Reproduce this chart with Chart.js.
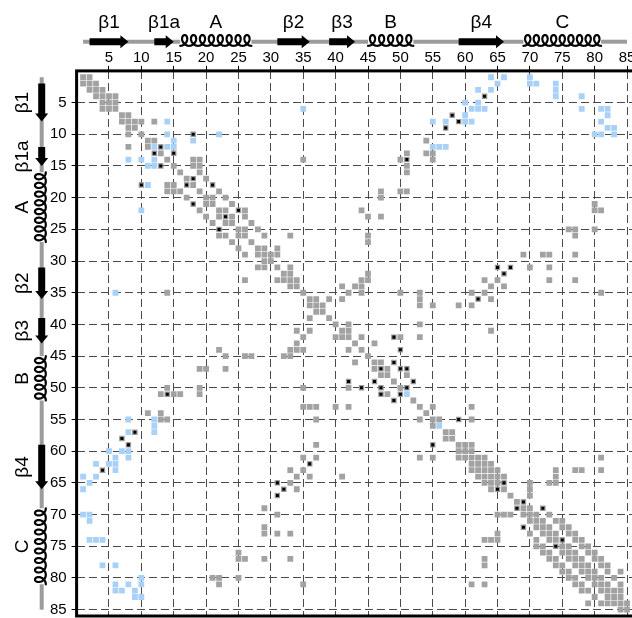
<!DOCTYPE html>
<html><head><meta charset="utf-8">
<script src="https://cdn.jsdelivr.net/npm/chart.js@4.4.0/dist/chart.umd.min.js"></script>
<style>html,body{margin:0;padding:0;background:#fff;overflow:hidden;width:632px;height:618px}canvas{display:block}</style>
</head><body>
<canvas id="c" width="640" height="630" style="width:640px;height:630px"></canvas>
<script>
// ---- data ----
const residueRange = [0, 86];
const xTickValues = [5,10,15,20,25,30,35,40,45,50,55,60,65,70,75,80,85];
const yTickValues = [5,10,15,20,25,30,35,40,45,50,55,60,65,70,75,80,85];
const backbone = [1, 85];
const ssLabels = ['β1','β1a','A','β2','β3','B','β4','C'];
const ssTypes  = ['E','E','H','E','E','H','E','H'];
const ssStart  = [2,12,16,31,39,45,59,69];
const ssEnd    = [8,15,27,36,43,52,66,81];

// contacts (i <= j); each is drawn at (i,j) and (j,i)
const grayContacts = [
[1,1],[1,2],[2,2],[2,3],[3,3],[3,4],[4,4],[4,5],[4,6],[5,5],[5,6],[6,6],[7,7],[7,8],[8,8],[8,9],[9,9],[8,10],[10,10],[8,12],[11,11],[11,12],[13,13],[14,14],[15,15],
[14,18],[14,19],[15,18],[15,19],[16,16],[16,19],[17,17],[17,20],[18,18],[19,19],[20,20],[20,21],[21,21],[19,22],[22,22],[22,23],[20,23],[21,24],[23,24],[24,24],[22,26],[23,26],[25,25],[25,26],[26,26],[24,27],[27,27],[25,28],[28,28],
[14,35],[22,44],[23,45],[23,47],[26,45],[27,45],[19,47],[20,47],[19,50],[19,51],[14,50],[13,51],[15,51],[16,51],[11,54],[13,54],[13,55],[14,55],[26,29],[26,33],[28,29],[28,31],
[21,80],[22,80],[22,81],[25,80],[25,76],[25,77],[26,77],
[29,29],[29,30],[29,31],[30,30],[31,31],[32,32],[32,33],[31,33],[33,33],[33,34],[34,34],[35,35],[36,36],[36,37],[37,37],[37,38],[38,38],[36,39],[39,39],[40,40],[40,42],[41,41],[41,42],[42,42],[43,43],[42,44],[44,44],[45,45],
[32,45],[33,45],[33,44],[34,41],[34,43],[34,44],[35,44],[35,42],[36,41],
[35,50],[35,53],[36,53],[37,53],[37,55],[40,53],[42,50],[42,53],[43,46],[46,46],[46,47],[47,48],[48,48],[48,51],[49,49],[50,50],[52,52],[53,53],[54,54],[53,55],[55,55],[55,56],[57,57],[57,58],[58,58],
[29,69],[29,72],[29,73],[29,77],[31,70],[31,73],[33,63],[33,65],[33,73],[33,77],[34,64],[34,66],[35,61],[35,63],[35,81],[36,64],[37,59],[37,61],[41,64],[53,61],[55,61],
[65,70],[66,70],[67,70],[63,74],[64,74],[65,73],[65,74],[63,77],[63,78],[61,81],[63,81],
[59,59],[59,60],[59,61],[60,60],[60,61],[61,61],[61,62],[61,63],[62,62],[62,63],[62,64],[63,63],[63,64],[63,65],[64,64],[64,65],[64,66],[65,65],[66,66],[67,67],[68,68],[69,69],
[70,70],[71,71],[72,72],[73,73],[74,74],[75,75],[76,76],[77,77],[78,78],[79,79],[80,80],[81,81],[82,82],[83,83],[84,84],[85,85],
[69,70],[70,71],[71,72],[72,73],[73,74],[75,76],[76,77],[77,78],[78,79],[79,80],[80,81],[81,82],[82,83],[83,84],[84,85],
[70,73],[71,74],[72,75],[73,76],[74,77],[75,78],[76,79],[77,80],[78,81],[79,82],[80,83],[81,84],
[71,75],[72,76],[73,77],[74,78],[75,79],[76,80],[77,81],[78,82],[79,84],[82,84]
];
const blueContacts = [
[1,64],[1,66],[2,65],[3,62],[3,64],[5,60],[5,62],[6,61],[6,62],[6,63],[7,60],[8,60],[8,61],[8,55],[8,57],[12,55],[12,56],[12,57],
[1,70],[2,70],[2,71],[2,74],[3,74],[4,74],[4,78],[6,78],[6,81],[6,82],[7,82],[8,81],[9,82],[9,83],[10,80],[10,81],[10,83],
[6,35],[8,14],[10,14],[10,22],[11,15],[11,18],[12,12],[12,14],[12,15],[51,51],[56,56]
];
const blackContacts = [
[4,63],[7,58],[8,59],[9,57],[10,18],[12,13],[13,15],[17,18],[18,21],[22,25],[23,23],[14,51],
[31,65],[31,67],[32,66],[36,62],[55,59],[42,49],[44,50],[46,49],[47,47],[47,50],[47,51],[49,52],[50,51],
[65,66],[68,69],[69,72],[74,75]
];

// ---- helpers ----
function expand(pairs){
  const pts=[];
  pairs.forEach(([a,b])=>{ pts.push({x:a,y:b}); if(a!==b) pts.push({x:b,y:a}); });
  return pts;
}
const FONT = '"Liberation Sans", Arial, Helvetica, sans-serif';

function drawTrack(ctx, pos, map){
  const base = 41.7;
  ctx.save();
  ctx.strokeStyle = '#9c9c9c'; ctx.lineWidth = 4; ctx.lineCap = 'butt';
  const cuts = [];
  ssTypes.forEach((t,i)=>{ if(t==='H') cuts.push([pos(ssStart[i]), pos(ssEnd[i])]); });
  cuts.sort((a,b)=>a[0]-b[0]);
  let cur = pos(backbone[0]); const endP = pos(backbone[1]);
  const segs = [];
  cuts.forEach(c=>{ segs.push([cur, c[0]]); cur = c[1]; });
  segs.push([cur, endP]);
  segs.forEach(s=>{
    ctx.beginPath();
    let p = map(s[0], base); ctx.moveTo(p[0], p[1]);
    p = map(s[1], base); ctx.lineTo(p[0], p[1]);
    ctx.stroke();
  });
  ssTypes.forEach((t,i)=>{
    const s0 = pos(ssStart[i]), s1 = pos(ssEnd[i]);
    if (t==='E'){
      const hl = 8, sh = 3.5, hh = 6.5;
      const pts = [[s0,base-sh],[s1-hl,base-sh],[s1-hl,base-hh],[s1,base],[s1-hl,base+hh],[s1-hl,base+sh],[s0,base+sh]];
      ctx.fillStyle = '#000';
      ctx.beginPath();
      pts.forEach((q,k)=>{ const p = map(q[0], q[1]); if(k===0) ctx.moveTo(p[0],p[1]); else ctx.lineTo(p[0],p[1]); });
      ctx.closePath(); ctx.fill();
    } else {
      const n = Math.max(1, Math.round((s1-s0)/9));
      const r = (s1-s0)/(2*Math.PI*n), dx = 4.6, dy = 5.4, cc = 40.4;
      ctx.strokeStyle = '#000'; ctx.lineWidth = 2.2; ctx.lineJoin='round'; ctx.lineCap='round';
      ctx.beginPath();
      const steps = n*48;
      for (let k=0;k<=steps;k++){
        const tt = 2*Math.PI*n*k/steps;
        const a = s0 + r*tt + dx*Math.sin(tt);
        const c = cc + dy*Math.cos(tt);
        const p = map(a, c);
        if(k===0) ctx.moveTo(p[0],p[1]); else ctx.lineTo(p[0],p[1]);
      }
      ctx.stroke();
    }
  });
  ctx.restore();
}

const ssPlugin = {
  id: 'ssTrack',
  afterDraw(chart){
    const ctx = chart.ctx, xs = chart.scales.x, ys = chart.scales.y, ca = chart.chartArea;
    ctx.save();
    ctx.strokeStyle = '#000'; ctx.lineWidth = 3;
    ctx.strokeRect(ca.left, ca.top, ca.right-ca.left, ca.bottom-ca.top);
    ctx.restore();
    drawTrack(ctx, v=>xs.getPixelForValue(v), (a,c)=>[a,c]);
    drawTrack(ctx, v=>ys.getPixelForValue(v), (a,c)=>[c,a]);
    ctx.save();
    ctx.fillStyle = '#000';
    ctx.font = '19px ' + FONT;
    ctx.textAlign = 'center'; ctx.textBaseline = 'alphabetic';
    ssLabels.forEach((lab,i)=>{
      const mid = (ssStart[i]+ssEnd[i])/2;
      ctx.fillText(lab, xs.getPixelForValue(mid), 28.3);
      ctx.save();
      ctx.translate(28.3, ys.getPixelForValue(mid));
      ctx.rotate(-Math.PI/2);
      ctx.fillText(lab, 0, 0);
      ctx.restore();
    });
    ctx.restore();
  }
};

const tickFont = {family: FONT, size: 15};
new Chart(document.getElementById('c'), {
  type: 'scatter',
  data: { datasets: [
    {data: expand(grayContacts), backgroundColor:'#a2a2a2', borderWidth:0, pointStyle:'rect', pointRadius:4.1, order:3},
    {data: expand(blueContacts), backgroundColor:'#a9d1f7', borderWidth:0, pointStyle:'rect', pointRadius:4.1, order:2},
    {data: expand(blackContacts), backgroundColor:'#000', borderColor:'#9a9a9a', borderWidth:1.2, pointStyle:'rect', pointRadius:3, order:1}
  ]},
  options: {
    responsive:false, animation:false, events:[], devicePixelRatio:1,
    layout:{padding:{left:0, top:0, right:6.5, bottom:12.5}},
    plugins:{legend:{display:false}, tooltip:{enabled:false}},
    scales:{
      x:{type:'linear', position:'top', min:residueRange[0], max:residueRange[1], z:1,
         afterBuildTicks: a => { a.ticks = xTickValues.map(v=>({value:v})); },
         afterFit: a => { a.height = 70.9; },
         ticks:{font:tickFont, color:'#000', padding:-1, maxRotation:0, autoSkip:false},
         grid:{color:'#4a4a4a', lineWidth:1, drawTicks:true, tickLength:5, tickColor:'#000', tickWidth:1, tickBorderDash:[]},
         border:{display:false, dash:[8,4]}},
      y:{type:'linear', position:'left', reverse:true, min:residueRange[0], max:residueRange[1], z:1,
         afterBuildTicks: a => { a.ticks = yTickValues.map(v=>({value:v})); },
         afterFit: a => { a.width = 76.6; },
         ticks:{font:tickFont, color:'#000', padding:5, autoSkip:false},
         grid:{color:'#4a4a4a', lineWidth:1, drawTicks:true, tickLength:5, tickColor:'#000', tickWidth:1, tickBorderDash:[]},
         border:{display:false, dash:[8,4]}}
    }
  },
  plugins:[ssPlugin]
});
</script>
</body></html>
